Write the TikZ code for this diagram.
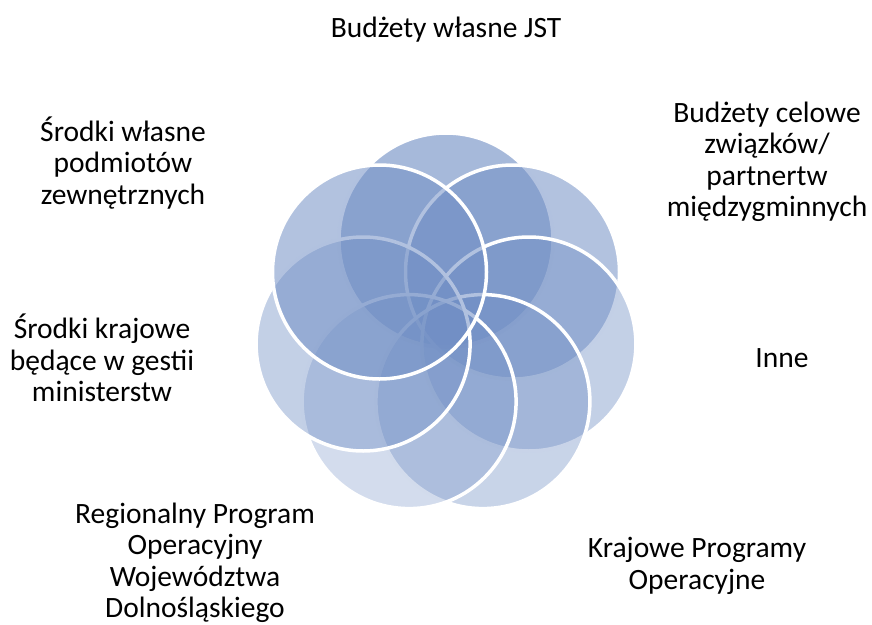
\documentclass[tikz,border=0pt]{standalone}
\usepackage{fontspec}
\setmainfont{Carlito}
\definecolor{ringblue}{RGB}{112,142,196}
\begin{document}
\begin{tikzpicture}[x=1pt,y=-1pt]
\tikzset{
  ring/.style={circle, draw=white, line width=3.5pt, fill=ringblue, minimum size=214pt, inner sep=0pt},
  lab/.style={align=center, font=\fontsize{29.5}{31.5}\selectfont, inner sep=0pt, text=black}
}
\useasboundingbox (0,0) rectangle (872,624);
\node[ring, fill opacity=0.62] (c1) at (446,240) {};
\node[ring, fill opacity=0.54] (c2) at (512.5,272) {};
\node[ring, fill opacity=0.42] (c3) at (528.9,344) {};
\node[ring, fill opacity=0.385] (c4) at (482.9,401.6) {};
\node[ring, fill opacity=0.31] (c5) at (409.1,401.6) {};
\node[ring, fill opacity=0.42] (c6) at (363.1,344) {};
\node[ring, fill opacity=0.54] (c7) at (379.5,272) {};

\node[lab] (t1) at (446,30) {Budżety własne JST};
\node[lab] (t2) at (767,162) {Budżety celowe\\związków/\\partnertw\\międzygminnych};
\node[lab] (t3) at (782,358) {Inne};
\node[lab] (t4) at (697,566) {Krajowe Programy\\Operacyjne};
\node[lab] (t5) at (195,563) {Regionalny Program\\Operacyjny\\Województwa\\Dolnośląskiego};
\node[lab] (t6) at (102,358) {Środki krajowe\\będące w gestii\\ministerstw};
\node[lab] (t7) at (123,163) {Środki własne\\podmiotów\\zewnętrznych};
\end{tikzpicture}
\end{document}
